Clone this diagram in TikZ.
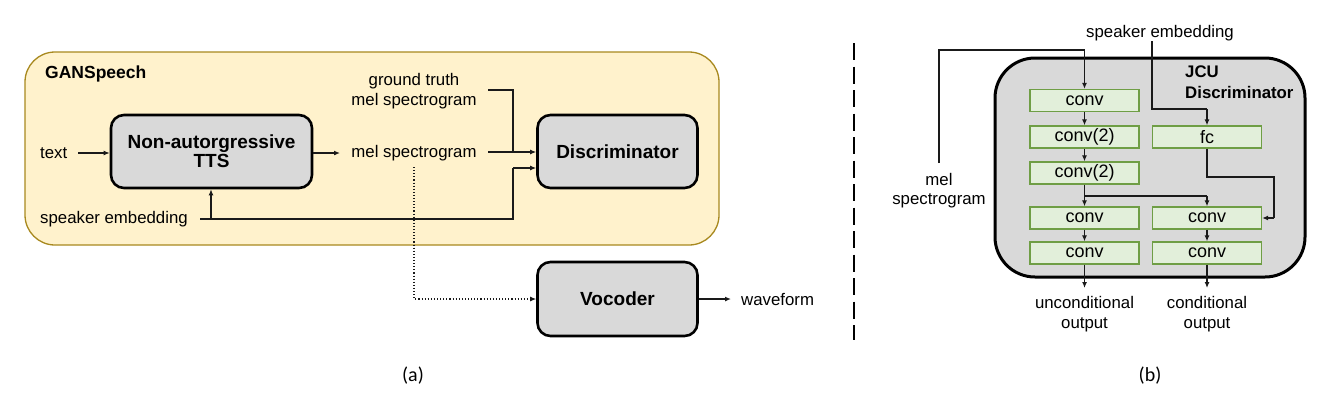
\documentclass[tikz,border=0pt]{standalone}
\usepackage{fontspec}
\setmainfont{Liberation Sans}
\newfontfamily\capfont{Carlito}
\usetikzlibrary{arrows.meta}
\definecolor{ganfill}{HTML}{FFF2CC}
\definecolor{ganborder}{HTML}{A8891F}
\definecolor{boxgray}{HTML}{D9D9D9}
\definecolor{gfill}{HTML}{E2EFDA}
\definecolor{gborder}{HTML}{6F9E45}
\definecolor{wire}{HTML}{1A1A1A}
\tikzset{
  bigbox/.style={draw=black, line width=2.6pt, fill=boxgray, rounded corners=13pt, minimum width=160pt, minimum height=73pt, font=\fontsize{19}{22}\selectfont\bfseries, align=center},
  gbox/.style={draw=gborder, line width=1.3pt, fill=gfill, minimum width=109pt, minimum height=22pt, inner sep=0pt, font=\fontsize{18}{20}\selectfont},
  lbl/.style={font=\fontsize{16.8}{19.5}\selectfont, align=center, inner sep=0pt},
  wirestyle/.style={draw=wire, line width=1.2pt, -{Latex[length=6pt,width=5pt]}},
  plain/.style={draw=wire, line width=1.2pt},
}
\begin{document}
\begin{tikzpicture}[x=1pt,y=-1pt]
\useasboundingbox (0,0) rectangle (1332,397);
% GANSpeech container
\draw[draw=ganborder, fill=ganfill, line width=1.3pt, rounded corners=30pt] (25,52) rectangle (719,245);
\node[anchor=west, font=\fontsize{17.5}{20}\selectfont\bfseries, inner sep=0pt] (gan) at (45,74) {GANSpeech};
% boxes
\node[bigbox, minimum width=201pt] (tts) at (211.5,151.5) {Non-autorgressive\\[-3pt]TTS};
\node[bigbox] (disc) at (617.5,151.5) {Discriminator};
\node[bigbox, minimum height=74pt] (voc) at (617.5,299) {Vocoder};
% labels
\node[lbl, anchor=west] (text) at (40,153) {text};
\node[lbl, anchor=west] (spk) at (40,219) {speaker embedding};
\node[lbl] (mel) at (414,153) {mel spectrogram};
\node[lbl] (gt) at (414,91) {ground truth\\mel spectrogram};
\node[lbl, anchor=west] (wave) at (741,299) {waveform};
% coordinates
\coordinate (gtR) at (488,90);
\coordinate (gtC) at (513,90);
\coordinate (spkR) at (200,219);
\coordinate (spkT) at (211,219);
\coordinate (spkC) at (513,219);
\coordinate (melR) at (488,152);
\coordinate (melD) at (414,167);
\coordinate (melB) at (414,299);
% connectors
\draw[wirestyle] (78,153) -- (tts.west |- 0,153);
\draw[wirestyle] (tts.east |- 0,153) -- (340,153);
\draw[plain] (gtR) -- (gtC) -- (513,152);
\draw[wirestyle] (melR) -- (disc.west |- 0,152);
\draw[plain] (spkR) -- (spkC) -- (513,168);
\draw[wirestyle] (513,168) -- (disc.west |- 0,168);
\draw[wirestyle] (spkT) -- (tts.south -| spkT);
\draw[draw=wire, line width=1.1pt, dotted, -{Latex[length=6pt,width=5pt]}] (melD) -- (melB) -- (voc.west);
\draw[wirestyle] (voc.east) -- (731,299);
% separator
\draw[line width=2.8pt, dash pattern=on 17pt off 6.5pt] (854,43) -- (854,340);
% captions
\node[font=\capfont\fontsize{20}{24}\selectfont, inner sep=0pt] (capa) at (413,376) {(a)};
\node[font=\capfont\fontsize{20}{24}\selectfont, inner sep=0pt] (capb) at (1150,376) {(b)};
% JCU container
\draw[draw=black, fill=boxgray, line width=3pt, rounded corners=40pt] (995,58) rectangle (1305,277);
\node[anchor=west, font=\fontsize{16.8}{21}\selectfont\bfseries, align=left, inner sep=0pt] (jcu) at (1185,82.5) {JCU\\Discriminator};
% green boxes
\node[gbox] (c1) at (1084.5,100.5) {conv};
\node[gbox] (c2) at (1084.5,137) {conv(2)};
\node[gbox] (c3) at (1084.5,173) {conv(2)};
\node[gbox] (c4) at (1084.5,218) {conv};
\node[gbox] (c5) at (1084.5,253) {conv};
\node[gbox] (fc) at (1207,137) {fc};
\node[gbox] (d4) at (1207,218) {conv};
\node[gbox] (d5) at (1207,253) {conv};
% labels b
\node[lbl] (melb) at (939,190.5) {mel\\spectrogram};
\node[lbl] (spkb) at (1160,33) {speaker embedding};
\node[lbl] (uo) at (1084.5,314) {unconditional\\output};
\node[lbl] (co) at (1207,314) {conditional\\output};
% coordinates b
\coordinate (mb0) at (939,163);
\coordinate (mb1) at (939,50);
\coordinate (sp0) at (1152,41);
\coordinate (sp1) at (1152,109);
\coordinate (j3) at (1084.5,196);
\coordinate (fcR) at (1274,177);
% connectors b
\draw[plain] (mb0) -- (mb1) -- (c1.north |- mb1);
\draw[wirestyle] (c1.north |- mb1) -- (c1.north);
\draw[plain] (sp0) -- (sp1) -- (fc.north |- sp1);
\draw[wirestyle] (fc.north |- sp1) -- (fc.north);
\draw[wirestyle] (c1) -- (c2);
\draw[wirestyle] (c2) -- (c3);
\draw[plain] (c3.south) -- (j3) -- (d4.north |- j3);
\draw[wirestyle] (j3) -- (c4.north);
\draw[wirestyle] (d4.north |- j3) -- (d4.north);
\draw[plain] (fc.south) -- (fc.south |- fcR) -- (fcR) -- (1274,218);
\draw[wirestyle] (1274,218) -- (d4.east);
\draw[wirestyle] (c4) -- (c5);
\draw[wirestyle] (d4) -- (d5);
\draw[wirestyle] (c5.south) -- (1084.5,288);
\draw[wirestyle] (d5.south) -- (1207,288);
\end{tikzpicture}
\end{document}
